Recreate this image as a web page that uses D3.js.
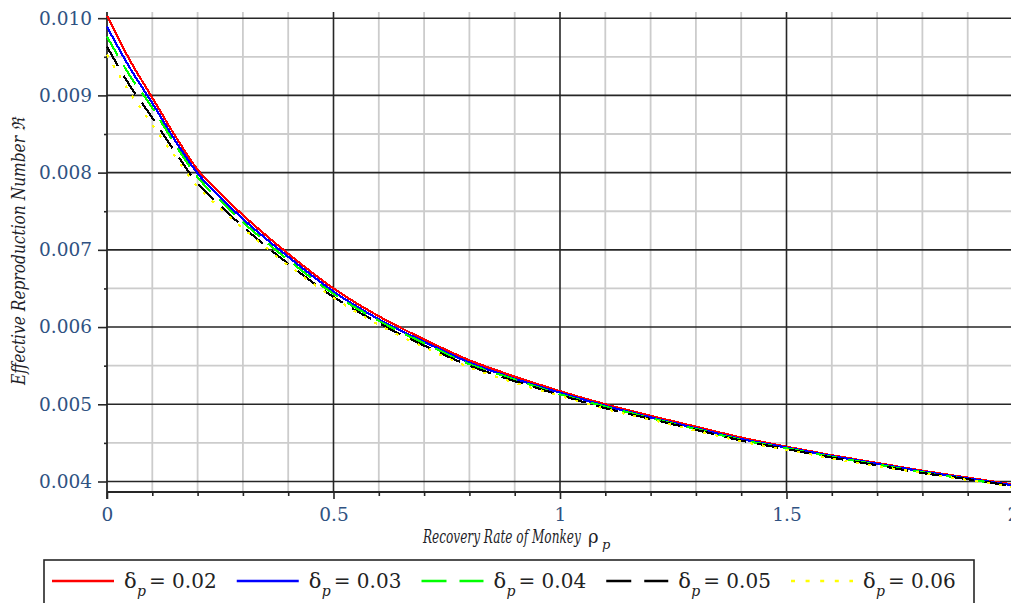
<!DOCTYPE html>
<html>
<head>
<meta charset="utf-8">
<script src="https://cdn.jsdelivr.net/npm/d3@7"></script>
<style>
  html, body { margin: 0; padding: 0; background: #fff; overflow: hidden; }
  svg { display: block; }
</style>
</head>
<body>
<svg id="chart" width="1011" height="603"></svg>
<script>
// Recovery rate of monkey (x values shared by every series)
const rho = [0, 0.05, 0.1, 0.15, 0.2, 0.25, 0.3, 0.4, 0.5, 0.6, 0.7, 0.8, 0.9, 1.0,
             1.1, 1.2, 1.3, 1.4, 1.5, 1.6, 1.7, 1.8, 1.9, 2.0];

// Effective reproduction number for each delta_p
const r002 = [0.01003, 0.00946, 0.00897, 0.00848, 0.00804, 0.00773, 0.00745, 0.00695, 0.00650, 0.00614, 0.00584, 0.00557,
              0.00536, 0.00517, 0.00500, 0.00485, 0.00471, 0.00457, 0.00445, 0.00434, 0.00424, 0.00414, 0.00405, 0.00396];
const r003 = [0.00989, 0.00936, 0.00890, 0.00842, 0.00799, 0.00768, 0.00740, 0.00691, 0.00646, 0.00610, 0.00581, 0.00554,
              0.00533, 0.00515, 0.00498, 0.00483, 0.00469, 0.00455, 0.00444, 0.00433, 0.00423, 0.00413, 0.00404, 0.00395];
const r004 = [0.00976, 0.00926, 0.00884, 0.00837, 0.00794, 0.00764, 0.00736, 0.00687, 0.00643, 0.00608, 0.00579, 0.00552,
              0.00532, 0.00513, 0.00497, 0.00482, 0.00468, 0.00454, 0.00443, 0.00432, 0.00422, 0.00412, 0.00403, 0.00394];
const r005 = [0.00963, 0.00913, 0.00871, 0.00827, 0.00786, 0.00757, 0.00730, 0.00682, 0.00639, 0.00605, 0.00576, 0.00550,
              0.00530, 0.00512, 0.00495, 0.00481, 0.00467, 0.00453, 0.00442, 0.00431, 0.00421, 0.00411, 0.00403, 0.00394];
const r006 = [0.00953, 0.00904, 0.00862, 0.00821, 0.00782, 0.00754, 0.00728, 0.00680, 0.00638, 0.00603, 0.00574, 0.00548,
              0.00528, 0.00511, 0.00494, 0.00480, 0.00466, 0.00452, 0.00441, 0.00430, 0.00420, 0.00411, 0.00402, 0.00393];

const deltaLabels = ["0.02", "0.03", "0.04", "0.05", "0.06"];

// Axis ticks
const xMajorTicks = [0, 0.5, 1, 1.5, 2];
const xTickLabels = ["0", "0.5", "1", "1.5", "2"];
const xMinorTicks = [0.1, 0.2, 0.3, 0.4, 0.6, 0.7, 0.8, 0.9, 1.1, 1.2, 1.3, 1.4, 1.6, 1.7, 1.8, 1.9];
const yMajorTicks = [0.004, 0.005, 0.006, 0.007, 0.008, 0.009, 0.010];
const yTickLabels = ["0.004", "0.005", "0.006", "0.007", "0.008", "0.009", "0.010"];
const yMinorTicks = [0.0045, 0.0055, 0.0065, 0.0075, 0.0085, 0.0095];

const seriesData = [r002, r003, r004, r005, r006];
const seriesStyle = [
  { color: "#ff0000", dash: null,    legendDash: null },
  { color: "#0000ff", dash: null,    legendDash: null },
  { color: "#00ff00", dash: "22,11", legendDash: "25,13" },
  { color: "#000000", dash: "22,11", legendDash: "25,13" },
  { color: "#ffff00", dash: "3,9",   legendDash: "4,10.6" }
];

const svg = d3.select("#chart");
const W = 1011;
const plot = { left: 107, right: 1013, top: 12, bottom: 492 };

const x = d3.scaleLinear().domain([0, 2]).range([plot.left, plot.right]);
const y = d3.scaleLinear().domain([0.003864, 0.01008]).range([plot.bottom, plot.top]);

const gridColor = "#cccccc";
const majorColor = "#262626";
const tickColor = "#2f5282";
const serif = '"DejaVu Serif", "Liberation Serif", serif';

// Minor grid
const grid = svg.append("g");
grid.selectAll(".vmin").data(xMinorTicks).join("line")
  .attr("x1", d => x(d)).attr("x2", d => x(d))
  .attr("y1", plot.top).attr("y2", plot.bottom)
  .attr("stroke", gridColor).attr("stroke-width", 1.8);
grid.selectAll(".hmin").data(yMinorTicks).join("line")
  .attr("x1", plot.left).attr("x2", W)
  .attr("y1", d => y(d)).attr("y2", d => y(d))
  .attr("stroke", gridColor).attr("stroke-width", 1.8);

// Major grid
grid.selectAll(".vmaj").data(xMajorTicks.filter(d => d > 0)).join("line")
  .attr("x1", d => x(d)).attr("x2", d => x(d))
  .attr("y1", plot.top).attr("y2", plot.bottom)
  .attr("stroke", majorColor).attr("stroke-width", 1.6);
grid.selectAll(".hmaj").data(yMajorTicks).join("line")
  .attr("x1", plot.left).attr("x2", W)
  .attr("y1", d => y(d)).attr("y2", d => y(d))
  .attr("stroke", majorColor).attr("stroke-width", 1.6);

// Y axis: major ticks with labels, minor ticks without
const yAxis = svg.append("g").attr("transform", `translate(${plot.left},0)`)
  .call(d3.axisLeft(y).tickValues(yMajorTicks).tickSize(9).tickPadding(6)
        .tickFormat((d, i) => yTickLabels[i]));
svg.append("g").attr("transform", `translate(${plot.left},0)`)
  .call(d3.axisLeft(y).tickValues(yMinorTicks).tickSize(3).tickFormat(""))
  .call(g => g.select(".domain").remove());

// X axis
const xAxis = svg.append("g").attr("transform", `translate(0,${plot.bottom})`)
  .call(d3.axisBottom(x).tickValues(xMajorTicks).tickSize(7).tickPadding(9)
        .tickFormat((d, i) => xTickLabels[i]));
svg.append("g").attr("transform", `translate(0,${plot.bottom})`)
  .call(d3.axisBottom(x).tickValues(xMinorTicks).tickSize(4).tickFormat(""))
  .call(g => g.select(".domain").remove());

svg.selectAll(".domain").remove();
svg.selectAll(".tick line").attr("stroke", majorColor).attr("stroke-width", 1.6);

// axis lines
svg.append("line").attr("x1", plot.left).attr("x2", plot.left)
  .attr("y1", plot.top).attr("y2", plot.bottom + 7)
  .attr("stroke", majorColor).attr("stroke-width", 1.8);
svg.append("line").attr("x1", plot.left).attr("x2", W)
  .attr("y1", plot.bottom).attr("y2", plot.bottom)
  .attr("stroke", majorColor).attr("stroke-width", 1.8);

[yAxis, xAxis].forEach(g => {
  g.attr("font-family", serif);
  g.selectAll("text")
    .attr("font-size", 18.5).attr("fill", tickColor);
});

// Curves
const line = d3.line()
  .x(d => x(d[0])).y(d => y(d[1]))
  .curve(d3.curveMonotoneX);

const curves = svg.append("g");
seriesData.forEach((vals, i) => {
  const st = seriesStyle[i];
  curves.append("path")
    .datum(rho.map((r, k) => [r, vals[k]]))
    .attr("d", line)
    .attr("fill", "none")
    .attr("stroke", st.color)
    .attr("stroke-width", 2.2)
    .attr("stroke-dasharray", st.dash)
    .attr("shape-rendering", "crispEdges");
});

// Axis titles: condensed horizontally to a target width
const titleColor = "#1e1e28";
function condensedText(px, py, rotate, text, width) {
  const t = svg.append("text")
    .attr("font-family", serif).attr("font-style", "italic")
    .attr("font-size", 18).attr("fill", titleColor)
    .text(text);
  const natural = t.node().getComputedTextLength();
  const k = width / natural;
  t.attr("transform", `translate(${px},${py}) rotate(${rotate}) scale(${k},1)`);
  return t;
}
condensedText(423, 543, 0, "Recovery Rate of Monkey", 158);
svg.append("text")
  .attr("x", 588).attr("y", 543)
  .attr("font-family", serif).attr("font-size", 18).attr("fill", titleColor)
  .text("ρ");
svg.append("text")
  .attr("x", 602).attr("y", 549)
  .attr("font-family", serif).attr("font-style", "italic")
  .attr("font-size", 13).attr("fill", titleColor)
  .text("p");

condensedText(25, 385, -90, "Effective Reproduction Number ℜ", 267);

// Legend
const legend = svg.append("g");
legend.append("rect")
  .attr("x", 44).attr("y", 560).attr("width", 930).attr("height", 60)
  .attr("fill", "#fff").attr("stroke", majorColor).attr("stroke-width", 1.6);

const itemX = d3.scaleLinear().domain([0, 4]).range([52, 791]);
seriesStyle.forEach((st, i) => {
  const x0 = itemX(i);
  const g = legend.append("g").attr("transform", `translate(${x0},0)`);
  g.append("line")
    .attr("x1", 0).attr("x2", 62).attr("y1", 581).attr("y2", 581)
    .attr("stroke", st.color).attr("stroke-width", 2.4)
    .attr("stroke-dasharray", st.legendDash);
  g.append("text").attr("font-family", serif).attr("fill", "#222")
    .attr("x", 72).attr("y", 588).attr("font-size", 21).text("δ");
  g.append("text").attr("font-family", serif).attr("fill", "#222")
    .attr("x", 85).attr("y", 596).attr("font-size", 14)
    .attr("font-style", "italic").text("p");
  g.append("text").attr("font-family", serif).attr("fill", "#222")
    .attr("x", 97).attr("y", 588).attr("font-size", 20)
    .text("= " + deltaLabels[i]);
});
</script>
</body>
</html>
